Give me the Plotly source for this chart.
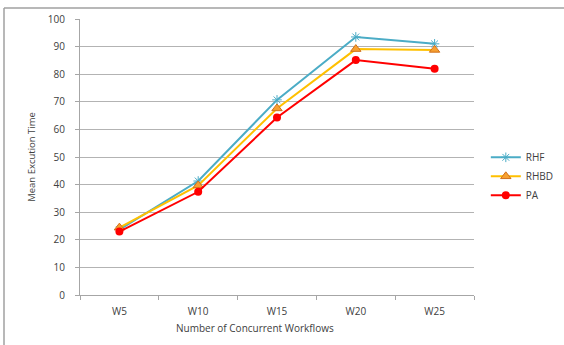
import plotly.graph_objects as go

categories = ["W5", "W10", "W15", "W20", "W25"]
rhf = [23.7, 41.3, 70.7, 93.5, 91.0]
rhbd = [24.4, 39.7, 67.6, 89.1, 88.8]
pa = [23.0, 37.4, 64.3, 85.1, 82.0]

FONT = "'Open Sans', 'Noto Sans', sans-serif"

fig = go.Figure()
fig.add_trace(go.Scatter(
    x=categories, y=rhf, name="RHF", mode="lines+markers",
    line=dict(color="#4BACC6", width=2),
    marker=dict(symbol="asterisk-open", size=8, color="#4BACC6",
                line=dict(color="#8CC8DC", width=1)),
))
fig.add_trace(go.Scatter(
    x=categories, y=rhbd, name="RHBD", mode="lines+markers",
    line=dict(color="#FFC000", width=2),
    marker=dict(symbol="triangle-up", size=9, color="#F7A030",
                line=dict(color="#D0701A", width=1)),
))
fig.add_trace(go.Scatter(
    x=categories, y=pa, name="PA", mode="lines+markers",
    line=dict(color="#FF0000", width=2),
    marker=dict(symbol="circle", size=8, color="#FF0000"),
))

fig.update_layout(
    width=564, height=345,
    margin=dict(l=80, r=90, t=19, b=50, autoexpand=False),
    paper_bgcolor="white", plot_bgcolor="white",
    font=dict(family=FONT, color="#404040", size=10),
    showlegend=True,
    legend=dict(x=1.03, y=0.43, xanchor="left", yanchor="middle",
                font=dict(size=10, color="#404040"),
                tracegroupgap=0, itemwidth=30, bgcolor="rgba(0,0,0,0)"),
    xaxis=dict(
        type="category", showline=True, linecolor="#a6a6a6", linewidth=1,
        ticks="outside", tickson="boundaries", ticklen=4, tickcolor="#a6a6a6",
        showgrid=False, tickfont=dict(size=10), range=[-0.5, 4.5],
        automargin=False, ticklabelstandoff=7,
    ),
    yaxis=dict(
        range=[0, 100], dtick=10, showline=True, linecolor="#a6a6a6", linewidth=1,
        ticks="outside", ticklen=4, tickcolor="#a6a6a6",
        showgrid=True, gridcolor="#b3b3b3", gridwidth=1,
        tickfont=dict(size=10), zeroline=False, automargin=False,
        ticklabelstandoff=8,
        title=dict(text="Mean Excution Time", font=dict(size=9.5), standoff=10),
    ),
    annotations=[dict(
        text="Number of Concurrent Workflows", xref="paper", yref="paper",
        x=(255 - 80) / 394, y=(295 - 328) / 276, xanchor="center", yanchor="middle",
        showarrow=False, font=dict(size=10, color="#404040"),
    )],
    shapes=[
        dict(type="line", xref="paper", yref="paper",
             x0=(4 - 80) / 394, x1=(564 - 80) / 394,
             y0=(295 - 8) / 276, y1=(295 - 8) / 276,
             line=dict(color="#a0a0a0", width=1.5)),
        dict(type="line", xref="paper", yref="paper",
             x0=(4 - 80) / 394, x1=(4 - 80) / 394,
             y0=(295 - 8) / 276, y1=(295 - 345) / 276,
             line=dict(color="#a0a0a0", width=1.5)),
    ],
)

fig.write_html(
    "out.html",
    config={"displayModeBar": False},
    post_script="document.body.style.margin='0';document.body.style.overflow='hidden';",
)
